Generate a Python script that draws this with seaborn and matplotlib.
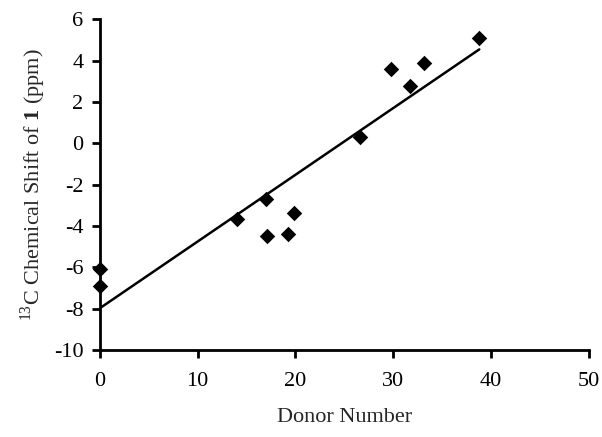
import pandas as pd
import seaborn as sns
import matplotlib.pyplot as plt

# donor number vs 13C chemical shift of compound 1
donor_number = [0, 0, 14.0, 17.0, 17.1, 19.2, 19.9, 26.6, 29.8, 31.7, 33.1, 38.8]
chem_shift = [-6.1, -6.9, -3.65, -2.7, -4.5, -4.4, -3.35, 0.32, 3.58, 2.77, 3.87, 5.1]

x_ticks = [0, 10, 20, 30, 40, 50]
y_ticks = [6, 4, 2, 0, -2, -4, -6, -8, -10]


def main():
    df = pd.DataFrame({"Donor": donor_number, "Shift": chem_shift})

    sns.set_style("ticks")
    plt.rcParams['font.family'] = ['Liberation Serif', 'DejaVu Serif']
    plt.rcParams['mathtext.fontset'] = 'custom'
    plt.rcParams['mathtext.rm'] = 'Liberation Serif'
    plt.rcParams['mathtext.bf'] = 'Liberation Serif:bold'
    plt.rcParams['axes.unicode_minus'] = False

    fig = plt.figure(figsize=(6.02, 4.37), dpi=100)
    ax = fig.add_axes([0.166, 0.199, 0.812, 0.757])

    sns.regplot(x="Donor", y="Shift", data=df, ci=None, ax=ax, marker="D",
                scatter_kws={"s": 62, "color": "black", "alpha": 1, "linewidths": 0,
                             "zorder": 3, "clip_on": False},
                line_kws={"color": "black", "lw": 1.8})

    ax.set_xlim(0, 50)
    ax.set_ylim(-10, 6)
    ax.set_xticks(x_ticks)
    ax.set_yticks(y_ticks)
    ax.tick_params(axis="both", labelsize=16, length=6, width=2, color="black",
                   labelcolor="black", direction="out")
    ax.tick_params(axis="x", pad=10)
    ax.tick_params(axis="y", pad=6)

    sns.despine(ax=ax)
    for s in ["left", "bottom"]:
        ax.spines[s].set_linewidth(2)
        ax.spines[s].set_color("black")

    ax.set_xlabel("Donor Number", fontsize=16, labelpad=12)
    ax.set_ylabel(r"$^{13}$C Chemical Shift of $\mathbf{1}$ (ppm)", fontsize=16, labelpad=4)

    fig.savefig("out.png", dpi=100)
    plt.close()


if __name__ == '__main__':
    main()
